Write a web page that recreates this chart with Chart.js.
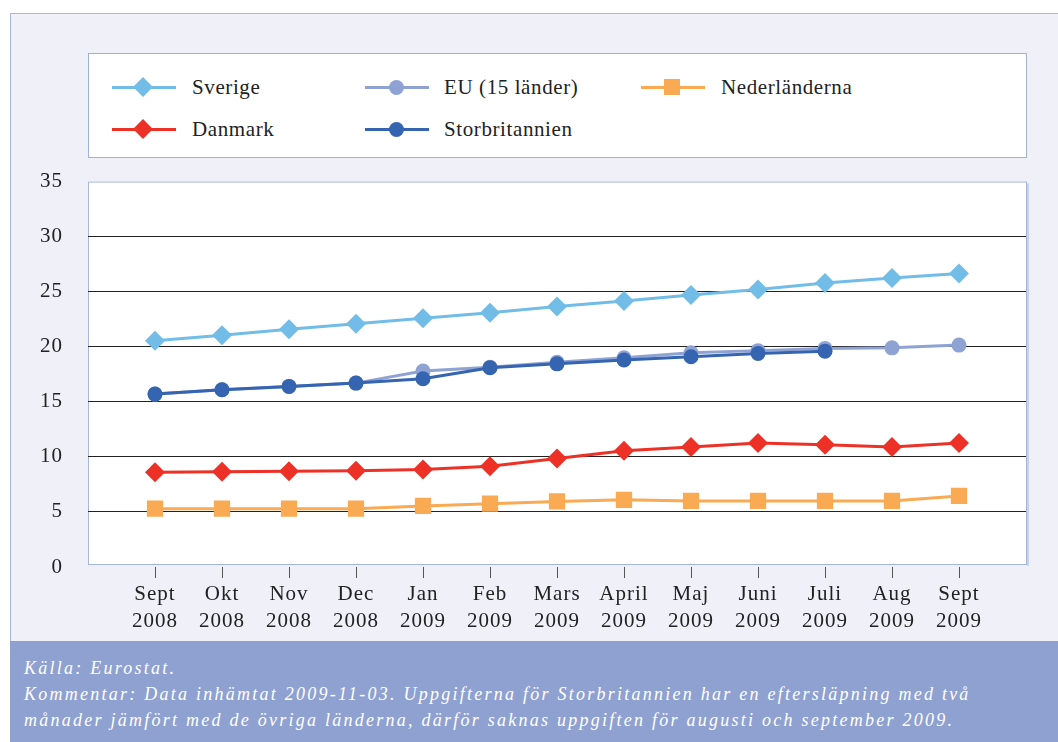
<!DOCTYPE html>
<html>
<head>
<meta charset="utf-8">
<script src="https://cdn.jsdelivr.net/npm/chart.js@4.4.1/dist/chart.umd.min.js"></script>
<style>
  body { margin: 0; width: 1058px; height: 742px; background: #fff; overflow: hidden; position: relative;
         font-family: "Liberation Serif", "DejaVu Serif", serif; color: #222; }
  #frame { position: absolute; left: 10px; top: 13px; width: 1048px; height: 729px; box-sizing: border-box;
           background: #eff0f8; border-left: 1px solid #a9b8de; border-top: 1px solid #a9b8de; }
  #legend { position: absolute; left: 88px; top: 53px; width: 939px; height: 105px; box-sizing: border-box;
            background: #fff; border: 1px solid #9fb0dc; }
  .lg-line { position: absolute; width: 64px; height: 3px; }
  .lg-mark { position: absolute; }
  .lg-text { position: absolute; font-size: 21px; line-height: 24px; letter-spacing: 0.6px; white-space: nowrap; }
  #chartBox { position: absolute; left: 0; top: 144px; width: 1058px; height: 496px; }
  #footer { position: absolute; left: 10px; top: 641px; width: 1048px; height: 101px; box-sizing: border-box;
            background: #8fa1d1; color: #fff; font-style: italic; font-size: 18px; line-height: 26px;
            letter-spacing: 2.25px; padding: 14px 0 0 14px; white-space: nowrap; }
</style>
</head>
<body>
<div id="frame"></div>
<div id="legend"></div>
<div id="chartBox"><canvas id="chart"></canvas></div>
<div id="footer">Källa: Eurostat.<br>Kommentar: Data inhämtat 2009-11-03. Uppgifterna för Storbritannien har en eftersläpning med två<br>månader jämfört med de övriga länderna, därför saknas uppgiften för augusti och september 2009.</div>

<script>
// månader på x-axeln
const months = ["Sept", "Okt", "Nov", "Dec", "Jan", "Feb", "Mars", "April", "Maj", "Juni", "Juli", "Aug", "Sept"];
const years = ["2008", "2008", "2008", "2008", "2009", "2009", "2009", "2009", "2009", "2009", "2009", "2009", "2009"];

// värden
const sverige = [20.55, 21.05, 21.6, 22.1, 22.6, 23.1, 23.65, 24.15, 24.7, 25.2, 25.8, 26.25, 26.65];
const eu15 = [15.7, 16.1, 16.4, 16.7, 17.8, 18.15, 18.6, 19.0, 19.45, 19.65, 19.85, 19.9, 20.15];
const nederlanderna = [5.3, 5.3, 5.3, 5.3, 5.55, 5.75, 5.95, 6.1, 6.0, 6.0, 6.0, 6.0, 6.45];
const danmark = [8.6, 8.65, 8.7, 8.75, 8.85, 9.15, 9.85, 10.55, 10.9, 11.25, 11.1, 10.9, 11.25];
const storbritannien = [15.7, 16.1, 16.4, 16.7, 17.1, 18.1, 18.45, 18.8, 19.1, 19.4, 19.6, null, null];

const yTicks = [0, 5, 10, 15, 20, 25, 30, 35];

function serie(label, data, color, style, radius, order) {
  return {
    label, data, order,
    borderColor: color, backgroundColor: color,
    borderWidth: 3, tension: 0,
    pointStyle: style, pointRadius: radius, pointBorderWidth: 0,
    pointBackgroundColor: color, pointHoverRadius: radius
  };
}

const datasets = [
  serie("Sverige", sverige, "#72bce8", "rectRot", 10, 0),
  serie("EU (15 länder)", eu15, "#8fa2d4", "circle", 7.5, 1),
  serie("Nederländerna", nederlanderna, "#f9aa52", "rect", 11.5, 0),
  serie("Danmark", danmark, "#ed3127", "rectRot", 10, 0),
  serie("Storbritannien", storbritannien, "#3564b0", "circle", 7.5, 0)
];

// legend i HTML
const slots = [[112, 87, 192], [365, 87, 444], [641, 87, 721], [112, 129, 192], [365, 129, 444]];
const legendEl = document.getElementById("legend");
datasets.forEach((ds, i) => {
  const [lx, cy, tx] = slots[i];
  const ox = lx - 89, oy = cy - 54;
  const line = document.createElement("div");
  line.className = "lg-line";
  line.style.cssText = `left:${ox}px;top:${oy - 1.5}px;background:${ds.borderColor}`;
  legendEl.appendChild(line);

  const mark = document.createElement("div");
  mark.className = "lg-mark";
  let s = 16, extra = "";
  if (ds.pointStyle === "rectRot") { s = 14; extra = "transform:rotate(45deg);"; }
  if (ds.pointStyle === "circle") { s = 15; extra = "border-radius:50%;"; }
  mark.style.cssText = `left:${ox + 31 - s / 2}px;top:${oy - s / 2}px;width:${s}px;height:${s}px;background:${ds.borderColor};${extra}`;
  legendEl.appendChild(mark);

  const txt = document.createElement("div");
  txt.className = "lg-text";
  txt.style.cssText = `left:${tx - 89}px;top:${oy - 12}px`;
  txt.textContent = ds.label;
  legendEl.appendChild(txt);
});

const plotBox = {
  id: "plotBox",
  beforeLayout(chart) { chart.ctx.letterSpacing = "1px"; },
  beforeDraw(chart) {
    const { ctx, chartArea: a } = chart;
    ctx.letterSpacing = "1px";
    ctx.save();
    ctx.fillStyle = "#fff";
    ctx.fillRect(a.left, a.top, a.width, a.height - 3);
    ctx.strokeStyle = "#a7b6dd";
    ctx.lineWidth = 1;
    ctx.strokeRect(a.left + 0.5, a.top + 0.5, a.width, a.height - 3);
    ctx.strokeStyle = "#c8d0ea";
    ctx.lineWidth = 2;
    ctx.beginPath();
    ctx.moveTo(a.right + 2, a.top + 2);
    ctx.lineTo(a.right + 2, a.bottom - 1);
    ctx.stroke();
    ctx.restore();
  }
};

Chart.defaults.font.family = "'Liberation Serif', 'DejaVu Serif', serif";
Chart.defaults.font.size = 21;
Chart.defaults.color = "#222";

new Chart(document.getElementById("chart"), {
  type: "line",
  data: { labels: months.map((m, i) => i), datasets },
  options: {
    responsive: true,
    maintainAspectRatio: false,
    animation: false,
    layout: { padding: { top: 15, right: 32, bottom: 0, left: 0 } },
    plugins: { legend: { display: false }, tooltip: { enabled: false } },
    scales: {
      x: {
        type: "linear",
        min: -1,
        max: 13,
        afterBuildTicks: s => { s.ticks = months.map((m, i) => ({ value: i })); },
        afterFit: s => { s.height = 73; },
        ticks: {
          autoSkip: false, maxRotation: 0, padding: 3,
          font: { size: 21, lineHeight: 1.3 },
          callback: v => [months[v], years[v]]
        },
        grid: { drawOnChartArea: false, tickLength: 11, tickColor: "#555", tickWidth: 1 },
        border: { display: false }
      },
      y: {
        min: 0,
        max: 35,
        afterBuildTicks: s => { s.ticks = yTicks.map(v => ({ value: v })); },
        afterFit: s => { s.width = 88; },
        ticks: { padding: 25, font: { size: 21 } },
        grid: {
          drawTicks: false,
          color: c => (c.tick.value === 0 || c.tick.value === 35) ? "rgba(0,0,0,0)" : "#222",
          lineWidth: 1
        },
        border: { display: false }
      }
    }
  },
  plugins: [plotBox]
});
</script>
</body>
</html>
